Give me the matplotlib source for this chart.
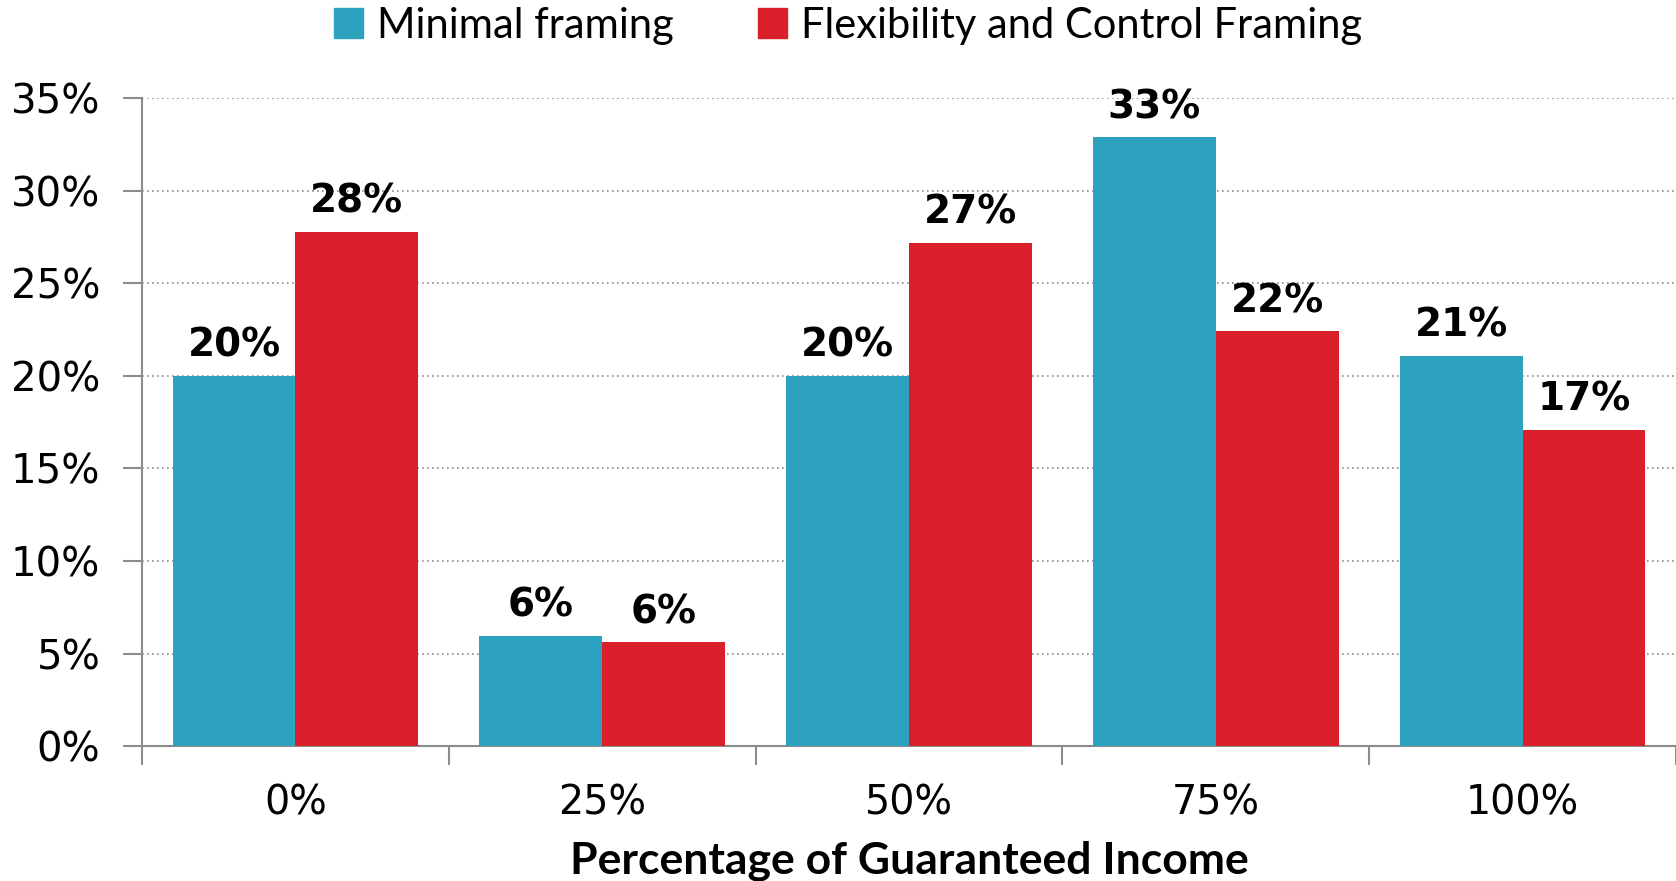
"""Grouped bars: guaranteed income choice by framing"""
import matplotlib.pyplot as plt
import numpy as np
from matplotlib.patches import Patch

CATEGORIES = ["0%", "25%", "50%", "75%", "100%"]
MINIMAL = [20.0, 5.95, 20.0, 32.9, 21.1]
FLEXIBLE = [27.8, 5.6, 27.2, 22.4, 17.1]
MINIMAL_LABELS = ["20%", "6%", "20%", "33%", "21%"]
FLEXIBLE_LABELS = ["28%", "6%", "27%", "22%", "17%"]
SERIES = ["Minimal framing", "Flexibility and Control Framing"]

BLUE = "#2CA2BF"
RED = "#DA1F2A"
GRAY = "#8C8C8C"
WIDE = ['DejaVu Sans']
NARROW = ['Lato', 'DejaVu Sans']


def main():
    """Go Main Go"""
    fig = plt.figure(figsize=(16.76, 8.81), dpi=100)
    ax = fig.add_axes([0.0847, 0.1532, 0.9153, 0.7352])

    x = np.arange(len(CATEGORIES))
    w = 0.4
    b1 = ax.bar(x - w / 2, MINIMAL, w, color=BLUE, zorder=3)
    b2 = ax.bar(x + w / 2, FLEXIBLE, w, color=RED, zorder=3)
    for bars, labels in ((b1, MINIMAL_LABELS), (b2, FLEXIBLE_LABELS)):
        ax.bar_label(bars, labels=labels, padding=8, fontsize=28,
                     fontweight='bold', family=WIDE)

    ax.set_xlim(-0.5, len(CATEGORIES) - 0.5)
    ax.set_ylim(0, 35)
    ax.set_yticks(range(0, 36, 5))
    ax.set_yticklabels([f"{v}%" for v in range(0, 36, 5)], fontsize=29,
                       family=WIDE)
    ax.set_xticks(x)
    ax.set_xticklabels(CATEGORIES, fontsize=28.5, family=WIDE)
    ax.set_xticks(np.arange(-0.5, len(CATEGORIES)), minor=True)
    ax.tick_params(axis='x', which='major', length=0, pad=27)
    ax.tick_params(axis='x', which='minor', length=14, color=GRAY, width=1.5)
    ax.tick_params(axis='y', length=14, color=GRAY, width=1.5, pad=16)

    ax.grid(axis='y', linestyle=(0, (1, 2)), color=GRAY, linewidth=1.2,
            zorder=0)
    for side in ('top', 'right'):
        ax.spines[side].set_visible(False)
    for side in ('left', 'bottom'):
        ax.spines[side].set_color(GRAY)
        ax.spines[side].set_linewidth(1.5)

    ax.set_xlabel("Percentage of Guaranteed Income", fontsize=32,
                  fontweight='bold', family=NARROW, labelpad=12)

    handles = [Patch(color=BLUE), Patch(color=RED)]
    fig.legend(handles, SERIES, loc='upper center', bbox_to_anchor=(0.506, 1.035),
               ncol=2, frameon=False, prop={'family': NARROW, 'size': 30},
               handlelength=0.7, handleheight=0.7, handletextpad=0.35,
               columnspacing=2.0)

    fig.savefig('out.png', dpi=100)


if __name__ == '__main__':
    main()
